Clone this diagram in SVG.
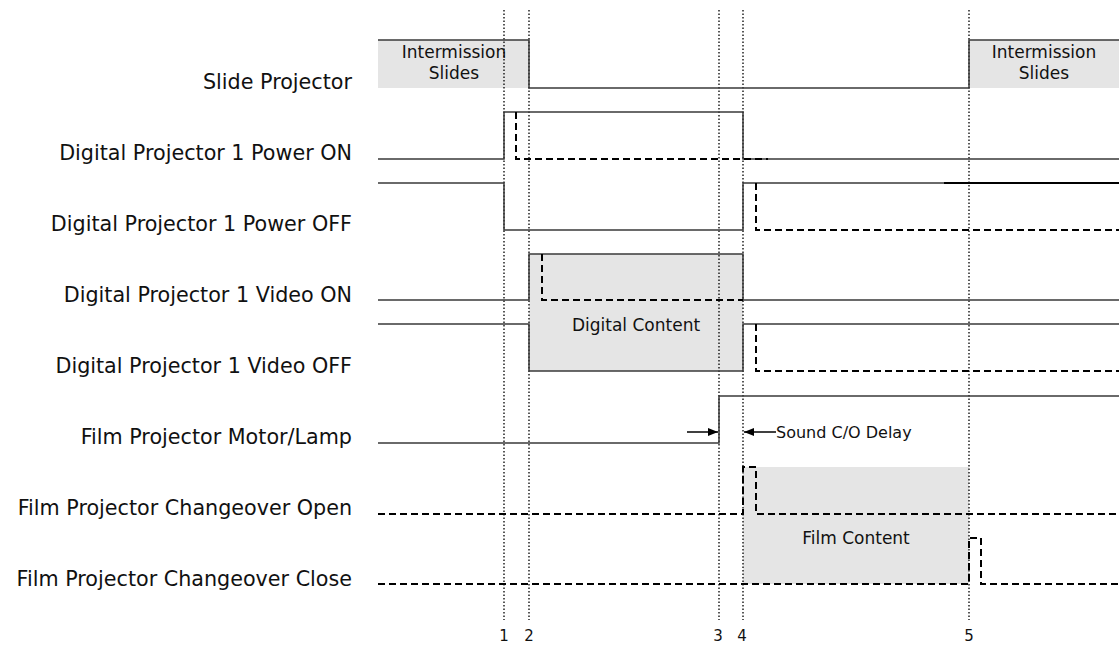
<svg xmlns="http://www.w3.org/2000/svg" width="1119" height="645" viewBox="0 0 1119 645">
<style>
.lbl{font-family:"DejaVu Sans","Verdana",sans-serif;font-size:20.7px;fill:#111;text-anchor:end}
.inner{font-family:"DejaVu Sans","Verdana",sans-serif;font-size:17px;fill:#111;text-anchor:middle}
.small{font-family:"DejaVu Sans","Verdana",sans-serif;font-size:16px;fill:#111}
.num{font-family:"DejaVu Sans","Verdana",sans-serif;font-size:15px;fill:#111;text-anchor:middle}
.sol{fill:none;stroke:#3a3a3a;stroke-width:1.5}
.dash{fill:none;stroke:#000;stroke-width:2;stroke-dasharray:7 4}
.dot{fill:none;stroke:#000;stroke-width:1.3;stroke-dasharray:1.5 2}
.area{fill:#e5e5e5;stroke:none}
</style>
<defs>
<marker id="ah" viewBox="0 0 10 8" refX="10" refY="4" markerWidth="10" markerHeight="8" markerUnits="userSpaceOnUse" orient="auto">
<path d="M0,0 L10,4 L0,8 Z" fill="#000"/>
</marker>
</defs>
<g id="areas">
<rect class="area" x="378" y="40" width="151" height="48"/>
<rect class="area" x="969" y="40" width="150" height="48"/>
<rect class="area" x="529" y="254" width="214" height="117"/>
<rect class="area" x="743" y="467" width="226" height="117"/>
</g>
<g id="labels">
<text class="lbl" x="352" y="89">Slide Projector</text>
<text class="lbl" x="352" y="160">Digital Projector 1 Power ON</text>
<text class="lbl" x="352" y="231">Digital Projector 1 Power OFF</text>
<text class="lbl" x="352" y="302">Digital Projector 1 Video ON</text>
<text class="lbl" x="352" y="373">Digital Projector 1 Video OFF</text>
<text class="lbl" x="352" y="444">Film Projector Motor/Lamp</text>
<text class="lbl" x="352" y="515">Film Projector Changeover Open</text>
<text class="lbl" x="352" y="586">Film Projector Changeover Close</text>
</g>
<g id="markers">
<path class="dot" d="M504,10 V620 M529,10 V620 M719,10 V620 M743,10 V620 M969,10 V620"/>
<text class="num" x="504" y="641">1</text>
<text class="num" x="529" y="641">2</text>
<text class="num" x="718" y="641">3</text>
<text class="num" x="742" y="641">4</text>
<text class="num" x="969" y="641">5</text>
</g>
<g id="connectors">
<path id="slide" class="sol" d="M378,40 H529 V88 H969 V40 H1119"/>
<path id="pwron" class="sol" d="M378,159 H504 V112 H743 V159 H1119"/>
<path id="pwron-d" class="dash" d="M516,112 V159 H768"/>
<path id="pwroff" class="sol" d="M378,183 H504 V230 H743 V183 H1119"/>
<path id="pwroff-b" fill="none" stroke="#000" stroke-width="1.8" d="M944,183 H1119"/>
<path id="pwroff-d" class="dash" d="M756,183 V230 H1119"/>
<path id="vidon" class="sol" d="M378,300 H529 V254 H743 V300 H1119"/>
<path id="vidon-d" class="dash" d="M542,254 V300 H743"/>
<path id="vidoff" class="sol" d="M378,324 H529 V371 H743 V324 H1119"/>
<path id="vidoff-d" class="dash" d="M756,324 V371 H1119"/>
<path id="motor" class="sol" d="M378,443 H719 V396 H1119"/>
<path id="arr1" fill="none" stroke="#000" stroke-width="1.5" marker-end="url(#ah)" d="M687,432 H718"/>
<path id="arr2" fill="none" stroke="#000" stroke-width="1.5" marker-end="url(#ah)" d="M776,432 H744"/>
<path id="coopen" class="dash" d="M378,514 H743 V467 H756 V514 H1119"/>
<path id="coclose" class="dash" d="M378,584 H969 V538 H981 V584 H1119"/>
</g>
<g id="texts">
<text class="inner" x="454" y="58">Intermission</text>
<text class="inner" x="454" y="79">Slides</text>
<text class="inner" x="1044" y="58">Intermission</text>
<text class="inner" x="1044" y="79">Slides</text>
<text class="inner" x="636" y="331">Digital Content</text>
<text class="inner" x="856" y="544">Film Content</text>
<text class="small" x="776" y="438">Sound C/O Delay</text>
</g>
</svg>
